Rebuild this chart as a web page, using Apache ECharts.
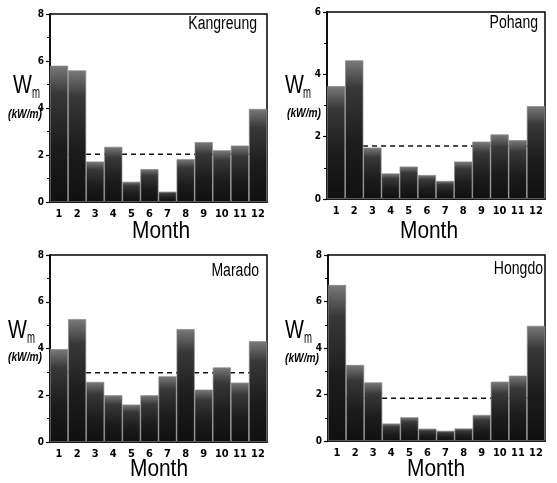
<!DOCTYPE html>
<html>
<head>
<meta charset="utf-8">
<script src="https://cdn.jsdelivr.net/npm/echarts@6/dist/echarts.min.js"></script>
<style>
html,body{margin:0;padding:0;background:#fff;}
#c{width:557px;height:483px;}
</style>
</head>
<body>
<div id="c"></div>
<script>
const months = ['1','2','3','4','5','6','7','8','9','10','11','12'];
const stations = ['Kangreung','Pohang','Marado','Hongdo'];
const kangreung = [5.8, 5.6, 1.72, 2.35, 0.86, 1.4, 0.44, 1.82, 2.55, 2.2, 2.4, 3.96];
const pohang    = [3.62, 4.45, 1.65, 0.82, 1.04, 0.77, 0.58, 1.2, 1.84, 2.07, 1.89, 2.98];
const marado    = [3.97, 5.26, 2.57, 2.0, 1.6, 2.0, 2.81, 4.83, 2.24, 3.19, 2.54, 4.31];
const hongdo    = [6.71, 3.27, 2.52, 0.75, 1.02, 0.53, 0.44, 0.54, 1.12, 2.55, 2.81, 4.95];
const dashLevels = [2.03, 1.7, 2.96, 1.84];
const yMaxes = [8, 6, 8, 8];
const yInterval = 2;
const xTitle = 'Month';
const yTitleMain = 'W';
const yTitleSub = 'm';
const yUnit = '(kW/m)';

const seriesValues = [kangreung, pohang, marado, hongdo];
const TICKFONT = "'DejaVu Sans Condensed','Liberation Sans Narrow','Liberation Sans',sans-serif";
const FONT = "'Liberation Sans',Arial,sans-serif";

const grids = [
  {left: 50, top: 14, width: 217, height: 188},
  {left: 327, top: 12, width: 218, height: 187},
  {left: 50, top: 255, width: 217, height: 187},
  {left: 328, top: 255, width: 217, height: 186}
];
const labelPos = [
  {wx: 13, wy: 74, mx: 32, my: 86, ux: 8, uy: 109, sx: 257, sy: 15, tx: 161, ty: 219},
  {wx: 285, wy: 74, mx: 303, my: 86, ux: 287, uy: 108, sx: 538, sy: 14, tx: 429, ty: 219},
  {wx: 8, wy: 319, mx: 27, my: 331, ux: 8, uy: 352, sx: 259, sy: 262, tx: 159, ty: 457},
  {wx: 285, wy: 319, mx: 304, my: 331, ux: 285, uy: 353, sx: 543, sy: 260, tx: 436, ty: 457}
];

const barColor = {
  type: 'linear', x: 0, y: 0, x2: 0, y2: 1,
  colorStops: [
    {offset: 0, color: '#7a7a7a'},
    {offset: 0.2, color: '#383838'},
    {offset: 0.6, color: '#1c1c1c'},
    {offset: 1, color: '#101010'}
  ]
};

const option = {
  animation: false,
  backgroundColor: '#fff',
  grid: grids.map(g => Object.assign({show: true, borderColor: '#000', borderWidth: 1.5, backgroundColor: 'transparent'}, g)),
  xAxis: grids.map((g, i) => ({
    type: 'category', gridIndex: i, data: months,
    boundaryGap: true,
    axisLine: {lineStyle: {color: '#000', width: 1.5}},
    axisTick: {alignWithLabel: true, length: 4, lineStyle: {color: '#000', width: 1.2}},
    axisLabel: {color: '#000', fontSize: 11, fontWeight: 'bold', fontFamily: TICKFONT, margin: 7},
    splitLine: {show: false}
  })),
  yAxis: grids.map((g, i) => ({
    type: 'value', gridIndex: i, min: 0, max: yMaxes[i], interval: yInterval,
    axisLine: {show: true, lineStyle: {color: '#000', width: 1.5}},
    axisTick: {show: true, length: 4, lineStyle: {color: '#000', width: 1.2}},
    minorTick: {show: true, splitNumber: 2, length: 3, lineStyle: {color: '#000', width: 1}},
    axisLabel: {color: '#000', fontSize: 10, fontWeight: 'bold', fontFamily: TICKFONT, margin: 6},
    splitLine: {show: false}
  })),
  series: [],
  graphic: []
};

seriesValues.forEach((vals, i) => {
  option.series.push({
    type: 'line', xAxisIndex: i, yAxisIndex: i, z: 1,
    data: months.map(() => dashLevels[i]),
    symbol: 'none', silent: true,
    lineStyle: {color: '#111', width: 1.5, type: [5, 4]}
  });
  option.series.push({
    type: 'bar', xAxisIndex: i, yAxisIndex: i, z: 3,
    data: vals, barCategoryGap: '0%',
    itemStyle: {color: barColor, borderColor: '#888', borderWidth: 0.7}
  });
  const p = labelPos[i];
  option.graphic.push(
    {type: 'text', x: p.wx, y: p.wy, scaleX: 0.8, style: {text: yTitleMain, font: '25px ' + FONT, fill: '#000'}},
    {type: 'text', x: p.mx, y: p.my, scaleX: 0.6, style: {text: yTitleSub, font: '16px ' + FONT, fill: '#000'}},
    {type: 'text', x: p.ux, y: p.uy, scaleX: 0.85, style: {text: yUnit, font: 'italic bold 12px ' + FONT, fill: '#000'}},
    {type: 'text', x: p.sx, y: p.sy, scaleX: 0.78, style: {text: stations[i], font: '18px ' + FONT, fill: '#000', textAlign: 'right'}},
    {type: 'text', x: p.tx, y: p.ty, scaleX: 0.87, style: {text: xTitle, font: '24px ' + FONT, fill: '#000', textAlign: 'center'}}
  );
});

const chart = echarts.init(document.getElementById('c'), null, {renderer: 'canvas'});
chart.setOption(option);
</script>
</body>
</html>
